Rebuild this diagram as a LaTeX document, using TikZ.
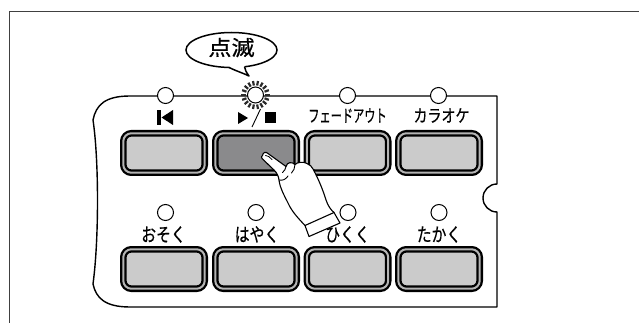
\documentclass[tikz,border=0pt]{standalone}
\usepackage{fontspec}
\newfontfamily\jpfont{Noto Sans CJK JP}[FakeBold=0.6]
\usetikzlibrary{shapes.geometric}
\definecolor{keyface}{HTML}{CBCBCB}
\definecolor{keypressed}{HTML}{8A8A8C}
\definecolor{keyring}{HTML}{B4B4B4}
\definecolor{framegray}{HTML}{404040}
\definecolor{raygray}{HTML}{2A2A2A}
\tikzset{
  keycap/.style={rectangle, rounded corners=8pt, minimum width=81.4pt, minimum height=39.4pt,
    inner sep=0pt, draw=black, line width=2.3pt, double=keyring, double distance=2pt, fill=keyface},
  lamp/.style={circle, minimum size=16pt, inner sep=0pt, draw=black, line width=1pt, fill=white},
  toplabel/.style={inner sep=0pt, font=\jpfont\fontsize{17.5}{18}\selectfont},
  botlabel/.style={inner sep=0pt, font=\jpfont\fontsize{19}{20}\selectfont},
  panel/.style={draw=black, line width=1.4pt, line join=round},
  glyph/.style={fill=black, draw=none},
  handline/.style={draw=black, line width=1.1pt, line join=round, line cap=round},
}
\begin{document}
\begin{tikzpicture}[x=1pt,y=-1pt]
\useasboundingbox (0,0) rectangle (639,323);

% outer frame
\draw[framegray, line width=1pt] (9,323) -- (9,12) -- (639,12);

% control panel outline with side notch
\draw[panel] (130,96) -- (497,96) -- (497,184) arc[start angle=90, end angle=270, radius=14pt]
  -- (497,307) -- (130,307)
  .. controls (105,307) and (96,298) .. (93,284)
  .. controls (99,240) and (99,160) .. (93,120)
  .. controls (96,105) and (105,96) .. (130,96) -- cycle;

% keys, upper row
\node[keycap] (kprev) at (164,153) {};
\node[keycap, fill=keypressed] (kplay) at (256,153) {};
\node[keycap] (kfade) at (347.5,153) {};
\node[keycap] (kkara) at (439,153) {};
% keys, lower row
\node[keycap] (kslow) at (164,269) {};
\node[keycap] (kfast) at (256,269) {};
\node[keycap] (klow) at (347.5,269) {};
\node[keycap] (khigh) at (439,269) {};

% blinking lamp rays
\foreach \a in {0,20,...,340}
  \draw[raygray, line width=2.2pt] (255.5,95) ++(\a:9.6pt) -- ++(\a:4.6pt);

% lamps
\node[lamp] (lprev) at (165.5,95.5) {};
\node[lamp] (lplay) at (255.5,95) {};
\node[lamp] (lfade) at (347.5,95.5) {};
\node[lamp] (lkara) at (438.5,95.5) {};
\node[lamp] (lslow) at (165.5,212.5) {};
\node[lamp] (lfast) at (256,212.5) {};
\node[lamp] (llow) at (348,212.5) {};
\node[lamp] (lhigh) at (439,212.5) {};

% skip-back symbol
\fill[glyph] (157,110) rectangle (160.5,125);
\fill[glyph] (161.5,117.5) -- (173,110) -- (173,125) -- cycle;
% play / stop symbol
\fill[glyph] (238,112) -- (248,118) -- (238,124) -- cycle;
\draw[black, line width=0.9pt] (260.5,109) -- (252,127);
\fill[glyph] (265,112.5) rectangle (275.5,123.5);

% key labels
\node[toplabel] (tfade) at (347.5,115.5) {\scalebox{0.64}[1]{フェードアウト}};
\node[toplabel] (tkara) at (441.5,115.5) {\scalebox{0.8}[1]{カラオケ}};
\node[botlabel] (tslow) at (163.5,234.5) {\scalebox{0.78}[1]{おそく}};
\node[botlabel] (tfast) at (257,234.5) {\scalebox{0.78}[1]{はやく}};
\node[botlabel] (tlow) at (347.5,234.5) {\scalebox{0.78}[1]{ひくく}};
\node[botlabel] (thigh) at (439,234.5) {\scalebox{0.78}[1]{たかく}};

% speech bubble
\node[ellipse, minimum width=91pt, minimum height=35pt, inner sep=0pt, draw=black,
      line width=1.5pt, fill=white] (bubble) at (231.5,50) {};
\fill[white] (228.5,64.5) -- (228.5,67) .. controls (236,71) and (243,73) .. (249,76)
  .. controls (246,72) and (245,69.5) .. (244.5,66.5) -- (244.5,64.5) -- cycle;
\draw[black, line width=1.5pt, line join=round] (228.5,67.2) .. controls (236,71) and (243,73) .. (249,76)
  .. controls (246,72) and (245,69.5) .. (244.5,66.6);
\node[inner sep=0pt, font=\jpfont\fontsize{21}{22}\selectfont] (blinktext) at (231.5,47.5)
  {\scalebox{1.1}[1]{点滅}};

% pressing hand
\path[handline, fill=white] (262.5,155.5)
  .. controls (263,152) and (266,151.5) .. (268,153.5)
  -- (286,166.5)
  .. controls (287,162) and (292,161.5) .. (295,164.5)
  .. controls (297,162) and (304,161.5) .. (307,163.5)
  .. controls (310,164.5) and (312,167) .. (313,169)
  .. controls (318,178) and (323,190) .. (326,200)
  .. controls (328,206) and (331,210) .. (334,212.5)
  -- (340,223) -- (309,236.5) -- (305,225.5)
  .. controls (299,219) and (292,212) .. (288,203)
  .. controls (284,195) and (280,188) .. (279,180)
  .. controls (278.5,176) and (277,173) .. (274,170)
  -- (262,158.5)
  .. controls (261,157.5) and (261.5,156) .. (262.5,155.5) -- cycle;
\draw[handline] (305,225.5) -- (334,212.5);
\draw[handline, line width=0.8pt] (265.5,155.5) .. controls (267.5,155.5) and (270,157) .. (272,159.5);
\draw[handline, line width=0.9pt] (286,166.5) .. controls (285.5,169) and (284.5,171) .. (282.5,172.5);
\draw[handline, line width=0.9pt] (295,164.5) .. controls (295,168) and (293.5,171) .. (291.5,173);
\draw[handline, line width=0.9pt] (279,180) .. controls (283,181) and (286,179) .. (288,176);
\end{tikzpicture}
\end{document}
